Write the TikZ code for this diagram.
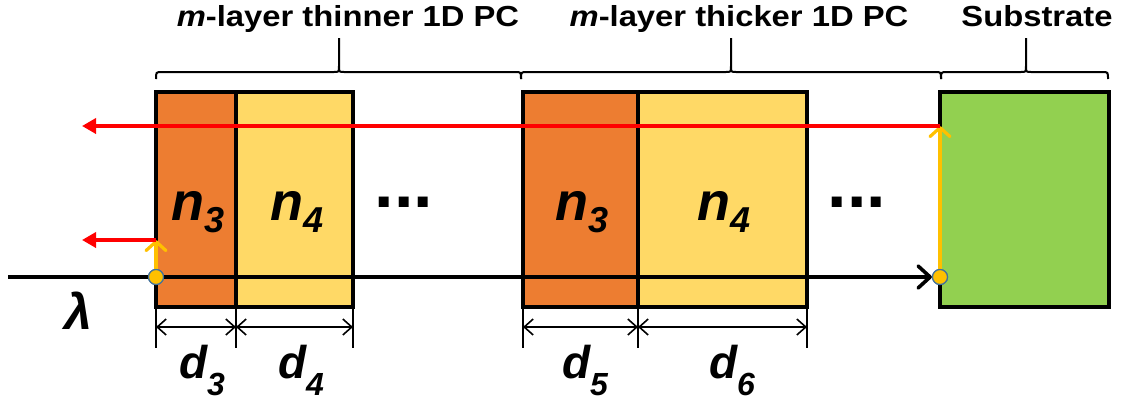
\documentclass[tikz,border=0pt]{standalone}
\usepackage{fontspec}
\setmainfont{Liberation Sans}
\usepackage{graphicx}
\usetikzlibrary{arrows.meta, positioning}

\definecolor{layerA}{HTML}{ED7D31}
\definecolor{layerB}{HTML}{FFD966}
\definecolor{subgreen}{HTML}{92D050}
\definecolor{gold}{HTML}{FFC000}
\definecolor{dotrim}{HTML}{41719C}

% symbols with big subscripts
\newcommand{\nsym}[1]{{\fontsize{54}{54}\selectfont\bfseries\itshape n}\raisebox{-12pt}{\fontsize{36}{36}\selectfont\bfseries\itshape #1}}
\newcommand{\dsym}[1]{{\fontsize{46}{46}\selectfont\bfseries\itshape d}\raisebox{-17pt}{\fontsize{32}{32}\selectfont\bfseries\itshape #1}}
\newcommand{\toplabel}[1]{\scalebox{1.13}[1]{#1}}
% brace: left, tip, right
\newcommand{\pcbrace}[3]{%
  \draw[bracestyle] (#1,79) .. controls (#1,72) .. (#1+6,72) -- (#2-5,72)
    .. controls (#2,72) .. (#2,66) -- (#2,38) -- (#2,66)
    .. controls (#2,72) .. (#2+5,72) -- (#3-6,72) .. controls (#3,72) .. (#3,79);}

\tikzset{
  layer/.style={draw, line width=3.5pt, outer sep=0pt, inner sep=0pt,
    minimum height=215pt, anchor=north west},
  beam/.style={line width=3.6pt, -{Straight Barb[length=12pt, width=22pt, round]}},
  rise/.style={gold, line width=3.2pt, -{Straight Barb[length=9pt, width=20pt, round]}},
  refl/.style={red, line width=3.6pt, -{Triangle[length=14pt, width=15pt]}},
  hit/.style={circle, fill=gold, draw=dotrim, line width=1.2pt, minimum size=15pt, inner sep=0pt},
  tick/.style={line width=1.8pt},
  dim/.style={line width=1.6pt, {Straight Barb[length=9pt, width=16pt]}-{Straight Barb[length=9pt, width=16pt]}},
  bracestyle/.style={line width=2pt},
  caption/.style={anchor=base, font=\fontsize{29}{29}\selectfont\bfseries},
  dots/.style={font=\fontsize{70}{70}\selectfont\bfseries}
}

\begin{document}
\begin{tikzpicture}[x=1pt, y=-1pt]
  \useasboundingbox (0,0) rectangle (1128,407);

  % layers
  \node[layer, fill=layerA, minimum width=80pt] (t3) at (156,92) {};
  \node[layer, fill=layerB, minimum width=117pt] (t4) at (236,92) {};
  \node[layer, fill=layerA, minimum width=115pt] (k5) at (523,92) {};
  \node[layer, fill=layerB, minimum width=169pt] (k6) at (638,92) {};
  \node[layer, fill=subgreen, minimum width=169pt] (sub) at (940,92) {};

  % indices
  \node[anchor=base] (nA) at (198,220) {\nsym{3}};
  \node[anchor=base] (nB) at (297,220) {\nsym{4}};
  \node[anchor=base] (nC) at (582,220) {\nsym{3}};
  \node[anchor=base] (nD) at (724,220) {\nsym{4}};
  \node[dots] (gap1) at (404,202) {...};
  \node[dots] (gap2) at (857,202) {...};

  % braces and captions
  \pcbrace{156}{339}{521}
  \pcbrace{521}{731}{941}
  \pcbrace{941}{1026}{1108}
  \node[caption] (capA) at (348,26) {\toplabel{\textit{m}-layer thinner 1D PC}};
  \node[caption] (capB) at (739,26) {\toplabel{\textit{m}-layer thicker 1D PC}};
  \node[caption] (capC) at (1037,26) {\toplabel{Substrate}};

  % incident beam
  \node[hit] (h1) at (156,277) {};
  \node[hit] (h2) at (940,277) {};
  \coordinate (src) at (8,277);
  \draw[beam] (src) -- (h2);
  \node[anchor=base] (lam) at (78,329) {\fontsize{50}{50}\selectfont\bfseries\itshape λ};

  % reflected beams
  \coordinate (r1) at (156,240);
  \coordinate (o1) at (82,240);
  \coordinate (r2) at (940,126);
  \coordinate (o2) at (82,126);
  \draw[rise] (h1) -- (r1);
  \draw[refl] (r1) -- (o1);
  \draw[rise] (h2) -- (r2);
  \draw[refl] (r2) -- (o2);
  \node[hit] at (h1) {};
  \node[hit] at (h2) {};

  % thicknesses
  \foreach \c in {t3.south west, t3.south east, t4.south east,
                  k5.south west, k5.south east, k6.south east}
    \draw[tick] (\c) -- ++(0,41);
  \draw[dim] ([yshift=-20pt]t3.south west) -- ([yshift=-20pt]t3.south east);
  \draw[dim] ([yshift=-20pt]t4.south west) -- ([yshift=-20pt]t4.south east);
  \draw[dim] ([yshift=-20pt]k5.south west) -- ([yshift=-20pt]k5.south east);
  \draw[dim] ([yshift=-20pt]k6.south west) -- ([yshift=-20pt]k6.south east);
  \node[anchor=base] (dA) at (202,378) {\dsym{3}};
  \node[anchor=base] (dB) at (301,378) {\dsym{4}};
  \node[anchor=base] (dC) at (585,378) {\dsym{5}};
  \node[anchor=base] (dD) at (732,378) {\dsym{6}};
\end{tikzpicture}
\end{document}
